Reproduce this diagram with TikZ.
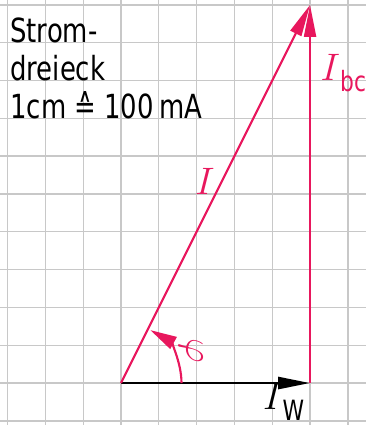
\documentclass[tikz,border=0pt]{standalone}
\usepackage{fontspec}
\setmainfont{DejaVu Sans}[FakeStretch=0.78]
\usepackage{tikz}
\usepackage{xcolor}
\usetikzlibrary{arrows.meta}
\definecolor{VecRed}{HTML}{E8175D}
\definecolor{GridGray}{HTML}{C8C8C8}
\tikzset{
    % Grid paper lines
    gridline/.style={
        draw=GridGray,
        line width=0.5pt
    },
    % Red phasor
    phasor/.style={
        draw=VecRed,
        line width=0.8pt,
        -{Triangle[length=12pt, width=4.5pt]}
    },
    % Black reference phasor
    refphasor/.style={
        draw=black,
        line width=1pt,
        -{Triangle[length=12pt, width=4.5pt]}
    },
    % Heading lines
    heading/.style={
        anchor=base west,
        inner sep=0pt,
        font=\fontsize{12.5}{12.5}\selectfont
    },
    % Phasor labels
    veclabel/.style={
        inner sep=0pt,
        font=\fontsize{14.5}{14.5}\selectfont
    }
}

\begin{document}
\begin{tikzpicture}[x=0.5cm, y=0.5cm]
    \useasboundingbox (-3.2,-1.11) rectangle (6.48,10.13);
    % Grid paper
    \draw [gridline, step=0.5cm] (-3.2,-1.11) grid (6.48,10.13);

    % Heading
    \node (title1) [heading] at (-2.94,9) {Strom-};
    \node (title2) [heading] at (-2.94,8) {dreieck};
    \node (title3) [heading] at (-2.94,7) {1cm ≙ 100\,mA};

    % Current triangle
    \coordinate (origin) at (0,0);
    \coordinate (iw) at (5,0);
    \coordinate (itop) at (5,10);
    \draw [refphasor] (origin) -- (iw);
    \draw [phasor] (iw) -- (itop);
    \draw [phasor] (origin) -- (itop);

    % Phase angle
    \coordinate (arcstart) at (1.6,0);
    \draw [phasor, -{Triangle[length=10pt, width=5pt]}] (arcstart) arc (0:61:1.6);
    \node (phi) [text=VecRed, rotate=-90, font=\fontsize{15}{15}\selectfont] at (1.85,0.85) {$\varphi$};

    % Labels
    \node (ibclabel) [veclabel, text=VecRed] at (5.88,8.2) {$I$\raisebox{-0.5ex}{\fontsize{10.5}{10.5}\selectfont bc}};
    \node (ilabel) [veclabel, text=VecRed] at (2.22,5.32) {$I$};
    \node (iwlabel) [veclabel] at (4.3,-0.5) {$I$\raisebox{-0.5ex}{\fontsize{10.5}{10.5}\selectfont W}};
\end{tikzpicture}
\end{document}
